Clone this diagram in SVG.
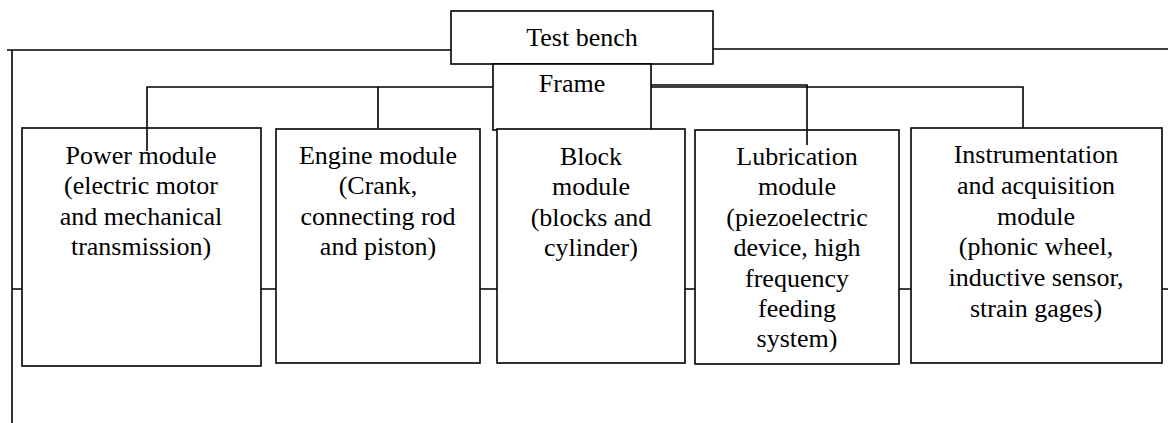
<svg xmlns="http://www.w3.org/2000/svg" width="1168" height="423" viewBox="0 0 1168 423">
<style>
.box{fill:#fff;stroke:#000;stroke-width:1.6}
.ln{fill:none;stroke:#000;stroke-width:1.6}
.t{font-family:'Liberation Serif','DejaVu Serif',serif;font-size:26px;fill:#000;text-anchor:middle}
</style>
<rect width="1168" height="423" fill="#fff"/>
<g id="connectors">
<path class="ln" d="M7,50 H451"/>
<path class="ln" d="M12,50 V423"/>
<path class="ln" d="M713,49 H1168"/>
<path class="ln" d="M493,87 H147 V151"/>
<path class="ln" d="M378,87 V128"/>
<path class="ln" d="M651,85 H807 V145"/>
<path class="ln" d="M651,87 H1023 V128"/>
<path class="ln" d="M12,289 H22 M261,289 H276 M480,289 H497 M685,289 H695 M899,289 H911 M1162,289 H1168"/>
</g>
<g id="test-bench">
<rect class="box" x="451" y="11" width="262" height="53"/>
<text class="t" font-family="Liberation Serif, serif" x="582" y="46">Test bench</text>
</g>
<g id="frame">
<rect class="box" x="493" y="64" width="158" height="66"/>
<text class="t" font-family="Liberation Serif, serif" x="572" y="92">Frame</text>
</g>
<g id="power-module">
<rect class="box" x="22" y="128" width="239" height="238"/>
<g class="t" font-family="Liberation Serif, serif">
<text x="141" y="164">Power module</text>
<text x="141" y="194">(electric motor</text>
<text x="141" y="225">and mechanical</text>
<text x="141" y="255">transmission)</text>
</g>
</g>
<path class="ln" d="M147,128 V151"/>
<g id="engine-module">
<rect class="box" x="276" y="129" width="204" height="234"/>
<g class="t" font-family="Liberation Serif, serif">
<text x="378" y="164">Engine module</text>
<text x="378" y="194">(Crank,</text>
<text x="378" y="225">connecting rod</text>
<text x="378" y="255">and piston)</text>
</g>
</g>
<g id="block-module">
<rect class="box" x="497" y="129" width="188" height="234"/>
<g class="t" font-family="Liberation Serif, serif">
<text x="591" y="165">Block</text>
<text x="591" y="195">module</text>
<text x="591" y="226">(blocks and</text>
<text x="591" y="256">cylinder)</text>
</g>
</g>
<g id="lubrication-module">
<rect class="box" x="695" y="130" width="204" height="234"/>
<g class="t" font-family="Liberation Serif, serif">
<text x="797" y="165">Lubrication</text>
<text x="797" y="195">module</text>
<text x="797" y="226">(piezoelectric</text>
<text x="797" y="256">device, high</text>
<text x="797" y="287">frequency</text>
<text x="797" y="317">feeding</text>
<text x="797" y="347">system)</text>
</g>
</g>
<path class="ln" d="M807,130 V145"/>
<g id="instrumentation-module">
<rect class="box" x="911" y="128" width="251" height="235"/>
<g class="t" font-family="Liberation Serif, serif">
<text x="1036" y="163">Instrumentation</text>
<text x="1036" y="194">and acquisition</text>
<text x="1036" y="225">module</text>
<text x="1036" y="255">(phonic wheel,</text>
<text x="1036" y="286">inductive sensor,</text>
<text x="1036" y="317">strain gages)</text>
</g>
</g>
</svg>
